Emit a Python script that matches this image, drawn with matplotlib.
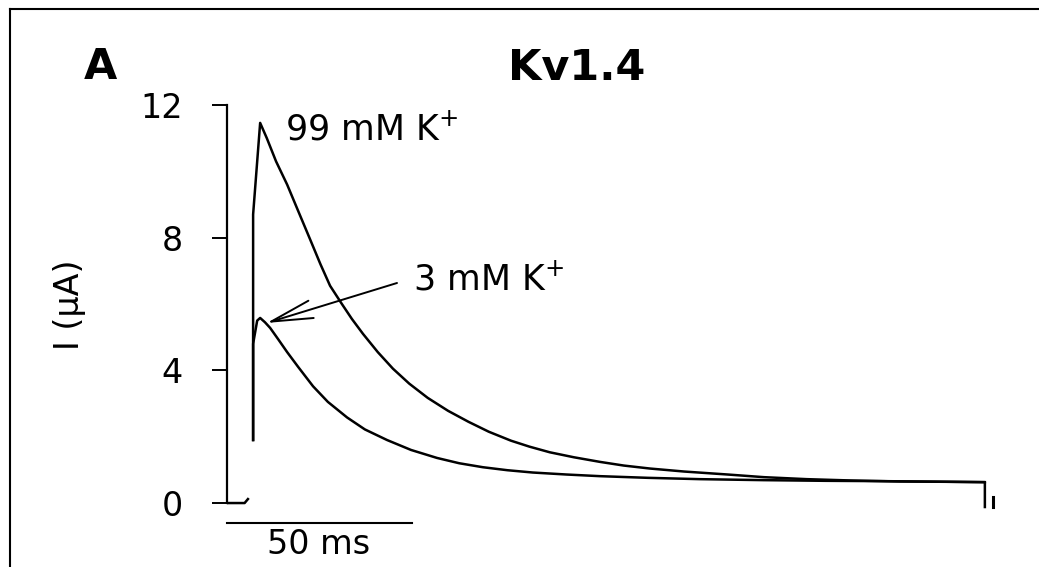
# Kv1.4 inactivation traces, 99 vs 3 mM external K+

import matplotlib
matplotlib.use("Agg")
import matplotlib.pyplot as plt
from matplotlib.lines import Line2D

# =====================================================
# Data (time in ms, current in uA)
# =====================================================

pre_t = [-6.8, -2.0, -1.1]
pre_i = [0.0, 0.0, 0.12]

t_99 = [0.3, 0.3, 2.2, 4.0, 6.5, 9.5, 12.5, 15.7, 18.5, 21.1, 24.3,
        27.0, 30.0, 34.0, 38.1, 42.5, 47.5, 53.0, 58.5, 64.0, 70.0,
        75.0, 80.5, 87.0, 94.1, 100.5, 107.6, 116.8, 128.6, 138.4,
        150.0, 162.0, 175.0, 188.0, 198.1]
i_99 = [1.9, 8.7, 11.46, 11.0, 10.3, 9.6, 8.8, 7.95, 7.2, 6.55, 6.0,
        5.55, 5.1, 4.55, 4.05, 3.6, 3.17, 2.78, 2.45, 2.15, 1.88,
        1.70, 1.53, 1.38, 1.24, 1.13, 1.04, 0.95, 0.86, 0.78,
        0.72, 0.68, 0.65, 0.64, 0.63]

t_3 = [0.3, 0.3, 1.4, 2.2, 3.5, 4.9, 7.0, 9.5, 12.5, 16.5, 20.5, 25.7,
       30.5, 36.5, 43.0, 50.0, 56.0, 62.4, 69.0, 75.9, 85.0, 94.1,
       107.0, 121.1, 138.4, 155.0, 170.5, 185.0, 198.1, 198.1]
i_3 = [1.9, 4.8, 5.5, 5.58, 5.45, 5.28, 4.95, 4.55, 4.1, 3.52, 3.05, 2.58,
       2.22, 1.90, 1.60, 1.36, 1.20, 1.08, 0.99, 0.92, 0.86, 0.81,
       0.76, 0.72, 0.69, 0.67, 0.66, 0.645, 0.63, -0.12]

tail_t = [200.3, 200.3]
tail_i = [0.18, -0.12]

y_ticks = [0, 4, 8, 12]

scale_ms = 50
scale_start = -6.8
scale_level = -0.6

arrow_tip = (4.0, 5.43)

# =====================================================
# Figure
# =====================================================

W, H = 1039, 567


def fx(x):
    return x / W


def fy(y):
    return 1 - y / H


fig = plt.figure(figsize=(W / 100, H / 100), dpi=100)

ax = fig.add_axes([fx(227), fy(552.8), 803 / W, 464.4 / H])

ax.plot(pre_t, pre_i, color="black", lw=1.8)
ax.plot(t_99, i_99, color="black", lw=1.8)
ax.plot(t_3, i_3, color="black", lw=1.8)
ax.plot(tail_t, tail_i, color="black", lw=2.2)

ax.set_xlim(-6.76, 210.3)
ax.set_ylim(-1.5, 12.5)

for side in ["top", "right", "bottom"]:
    ax.spines[side].set_visible(False)

ax.spines["left"].set_bounds(0, 12)
ax.spines["left"].set_linewidth(1.6)

ax.set_xticks([])
ax.set_yticks(y_ticks)
ax.tick_params(
    axis="y",
    direction="out",
    length=10.8,
    width=1.4,
    pad=21,
    labelsize=24
)

ax.set_ylabel("I (\u03bcA)", fontsize=24, va="center")
ax.yaxis.set_label_coords(fx(69), fy(305), transform=fig.transFigure)

# scale bar
ax.plot(
    [scale_start, scale_start + scale_ms],
    [scale_level, scale_level],
    color="black",
    lw=1.5,
    clip_on=False
)

fig.text(fx(319), fy(545), f"{scale_ms} ms", fontsize=24,
         ha="center", va="center")

# labels
fig.text(fx(285), fy(140), "99 mM K$^{+}$", fontsize=25,
         ha="left", va="baseline")

fig.text(fx(413), fy(290), "3 mM K$^{+}$", fontsize=25,
         ha="left", va="baseline")

ax.annotate(
    "",
    xy=arrow_tip,
    xycoords="data",
    xytext=(397, H - 283),
    textcoords="figure pixels",
    arrowprops=dict(
        arrowstyle="->,head_length=3.0,head_width=0.65",
        color="black",
        lw=1.4,
        shrinkA=0,
        shrinkB=0
    )
)

fig.text(fx(100), fy(67), "A", fontsize=31, fontweight="bold",
         ha="center", va="center")

fig.text(fx(577), fy(68), "Kv1.4", fontsize=31, fontweight="bold",
         ha="center", va="center")

# panel frame (left and top edges)
fig.add_artist(Line2D([fx(10), fx(10)], [fy(9), 0], color="black", lw=1.5))
fig.add_artist(Line2D([fx(10), 1], [fy(9), fy(9)], color="black", lw=1.5))

fig.savefig("out.png", dpi=100)
